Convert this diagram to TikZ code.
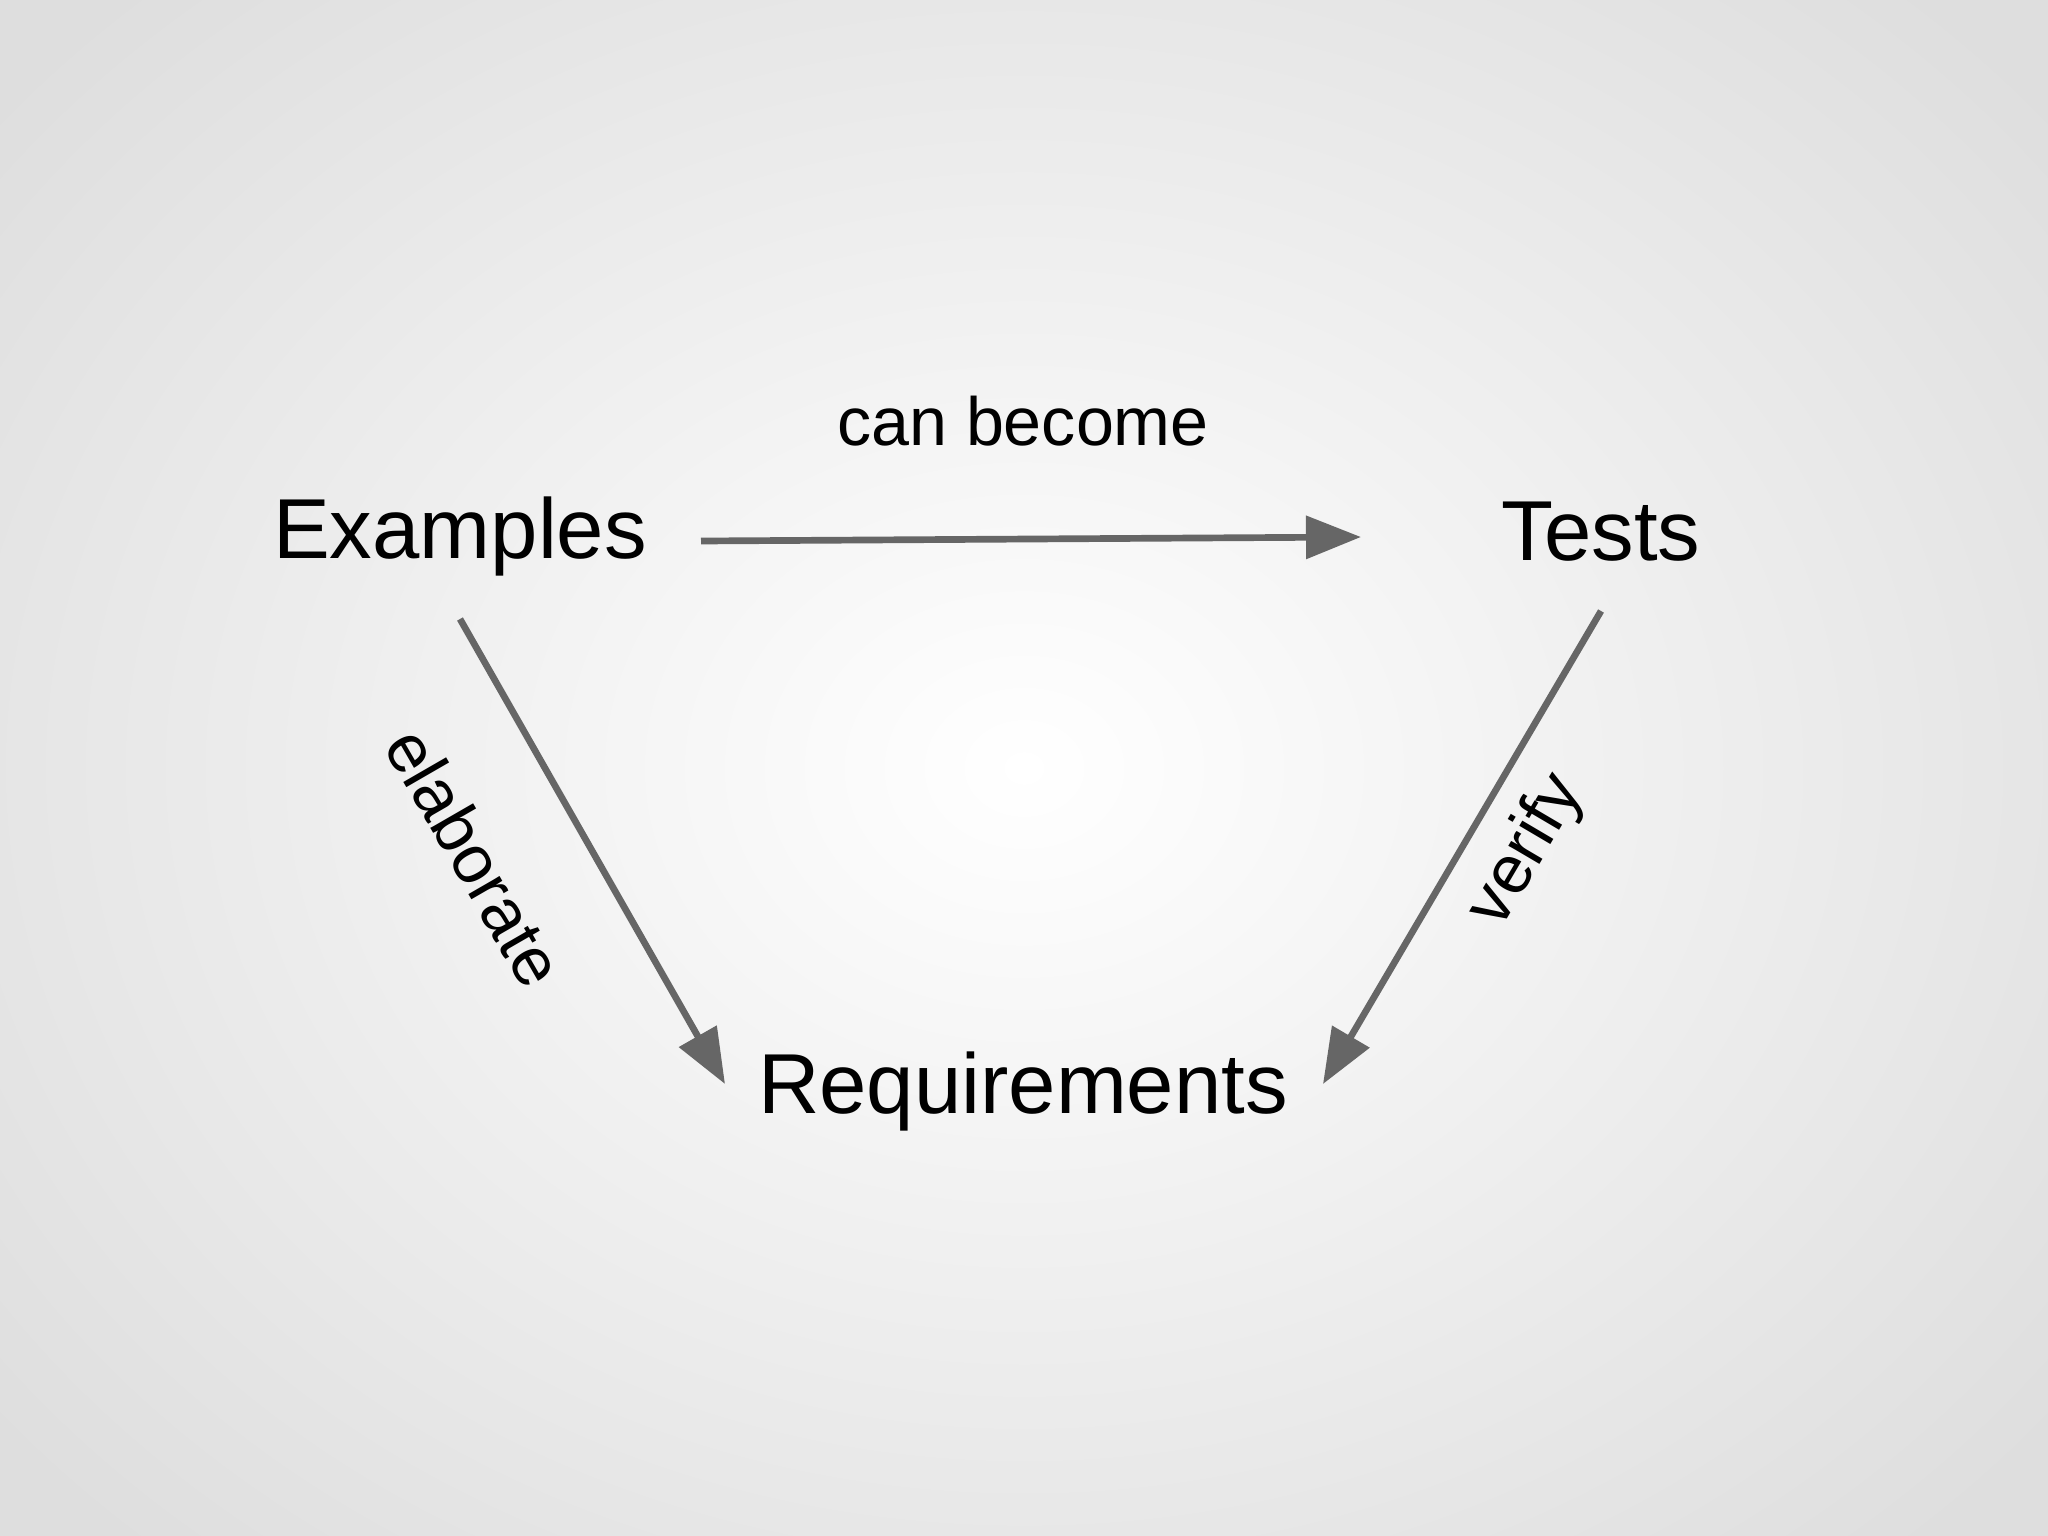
\documentclass[tikz,border=0pt]{standalone}
\usepackage{fontspec}
\setmainfont{Liberation Sans}
\usetikzlibrary{arrows.meta}
\begin{document}
\begin{tikzpicture}[x=0.01cm,y=-0.01cm,
  big/.style={font=\fontsize{24.2pt}{28pt}\selectfont, inner sep=0pt},
  lbl/.style={font=\fontsize{19.4pt}{22pt}\selectfont, inner sep=0pt},
  conn/.style={draw=black!60, line width=1.9pt, -{Triangle[length=0.55cm,width=0.42cm]}}]
\useasboundingbox (0,0) rectangle (2048,1536);
\shade[inner color=white, outer color=black!13] (-300,-300) rectangle (2348,1836);
\node[big] (ex) at (460,536) {Examples};
\node[big] (te) at (1601,532) {Tests};
\node[big] (rq) at (1023,1091) {Requirements};
\node[lbl] (cb) at (1023,421) {can become};
\coordinate (a1) at (701,541); \coordinate (a2) at (1361,537);
\coordinate (b1) at (460,619); \coordinate (b2) at (725,1084);
\coordinate (c1) at (1601,611); \coordinate (c2) at (1323,1084);
\draw[conn] (a1) -- (a2);
\draw[conn] (b1) -- (b2);
\draw[conn] (c1) -- (c2);
\node[lbl, rotate=-60] (el) at (475,857) {elaborate};
\node[lbl, rotate=59.5] (vf) at (1527,851) {verify};
\end{tikzpicture}
\end{document}
